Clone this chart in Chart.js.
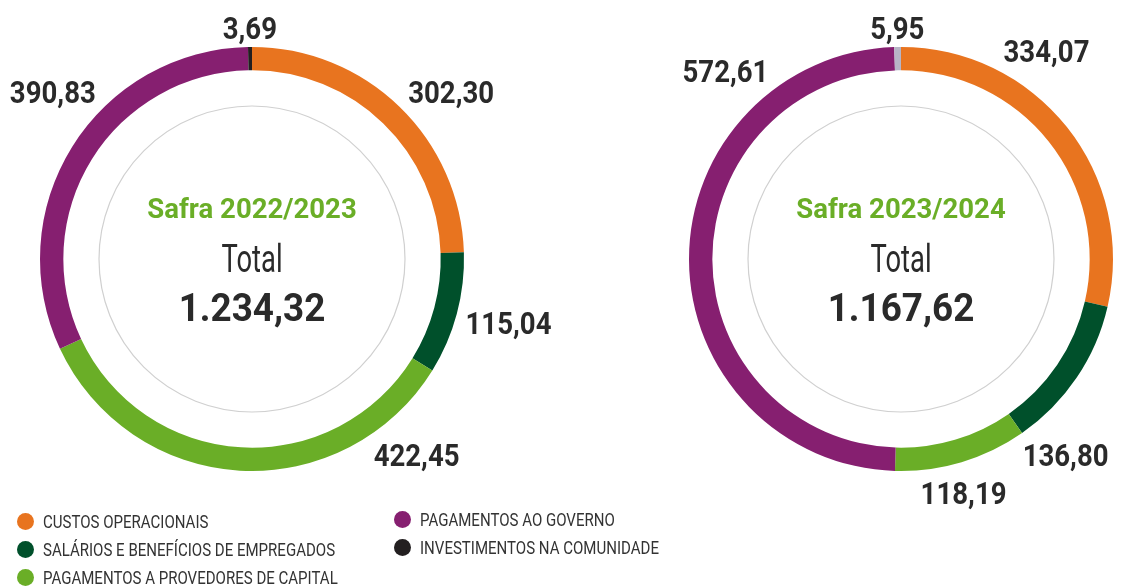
<!DOCTYPE html>
<html lang="pt-BR">
<head>
<meta charset="utf-8">
<title>Valor adicionado distribuído</title>
<script src="https://cdn.jsdelivr.net/npm/chart.js@4"></script>
<style>
    html, body { margin:0; padding:0; background:#fff; }
    body { width:1135px; height:587px; position:relative; overflow:hidden; font-family:Roboto, "Noto Sans", sans-serif; }
    #graficoA { position:absolute; left:0; top:0; }
    #graficoB { position:absolute; left:575px; top:0; }
    .itemLegenda { position:absolute; height:20px; display:flex; align-items:center; }
    .itemLegenda .bola { width:17px; height:17px; border-radius:50%; flex:none; }
    .itemLegenda .texto { margin-left:9px; font-size:18px; color:#333; white-space:nowrap; transform:scaleX(0.835); transform-origin:left center; }
</style>
</head>
<body>
<canvas id="graficoA" width="575" height="587"></canvas>
<canvas id="graficoB" width="560" height="587"></canvas>
<div id="legenda"></div>

<script>
// categorias (mesma ordem nos dois anéis, sentido horário a partir do topo)
const categorias = [
    'CUSTOS OPERACIONAIS',
    'SALÁRIOS E BENEFÍCIOS DE EMPREGADOS',
    'PAGAMENTOS A PROVEDORES DE CAPITAL',
    'PAGAMENTOS AO GOVERNO',
    'INVESTIMENTOS NA COMUNIDADE'
];
const safras = ['Safra 2022/2023', 'Safra 2023/2024'];
const valores2223 = [302.30, 115.04, 422.45, 390.83, 3.69];
const valores2324 = [334.07, 136.80, 118.19, 572.61, 5.95];
const totais = [1234.32, 1167.62];

// cores
const coresA = ['#e8741f', '#00502b', '#6aae27', '#861f70', '#231f20'];
const coresB = ['#e8741f', '#00502b', '#6aae27', '#861f70', '#b7b5c6'];

// ângulo (graus, a partir do topo) onde fica cada rótulo; null = meio da fatia
const angulosA = [50, 104, 140, 310, null];
const angulosB = [35, 140, 165, 317, null];

window.addEventListener("load", function(){

    function formata(n){
        let partes = n.toFixed(2).split('.');
        let inteiro = partes[0].replace(/\B(?=(\d{3})+(?!\d))/g, '.');
        return inteiro + ',' + partes[1];
    }

    // texto "condensado": escala horizontal
    function texto(ctx, str, x, y, fonte, cor, escala){
        ctx.save();
        ctx.font = fonte;
        ctx.fillStyle = cor;
        ctx.textAlign = 'center';
        ctx.textBaseline = 'alphabetic';
        ctx.translate(x, y);
        ctx.scale(escala, 1);
        ctx.fillText(str, 0, 0);
        ctx.restore();
    }

    //__________ plugin: círculo interno, rótulos e total __________//
    const rotulosPlugin = {
        id: 'rotulos',
        beforeDatasetsDraw: function(chart, args, opts){
            let arco = chart.getDatasetMeta(0).data[0];
            let ctx = chart.ctx;
            ctx.save();
            ctx.beginPath();
            ctx.arc(arco.x, arco.y, 153, 0, Math.PI * 2);
            ctx.strokeStyle = '#d0d0d0';
            ctx.lineWidth = 1.2;
            ctx.stroke();
            ctx.restore();
        },
        afterDatasetsDraw: function(chart, args, opts){
            let ctx = chart.ctx;
            let meta = chart.getDatasetMeta(0);
            let valores = chart.data.datasets[0].data;
            let fonte = 'bold 31px Roboto';
            let escala = 0.89;
            let alturaCap = 31 * 0.711;

            meta.data.forEach(function(arco, i){
                let ang;
                if(opts.angulos[i] == null){
                    ang = (arco.startAngle + arco.endAngle) / 2;
                }else{
                    ang = opts.angulos[i] * Math.PI / 180 - Math.PI / 2;
                }
                let str = formata(valores[i]);
                ctx.font = fonte;
                let larg = ctx.measureText(str).width * escala;
                let c = Math.cos(ang), s = Math.sin(ang);
                let d = arco.outerRadius + 8 + Math.abs(c) * larg / 2 + Math.abs(s) * alturaCap / 2;
                let x = arco.x + d * c;
                let y = arco.y + d * s;
                texto(ctx, str, x, y + alturaCap / 2, fonte, '#2a2a2a', escala);
            });

            // texto central
            let cx = meta.data[0].x, cy = meta.data[0].y;
            texto(ctx, opts.titulo, cx, cy - 41, 'bold 27px Roboto', '#6aae27', 1.02);
            texto(ctx, 'Total', cx, cy + 13, '38px Roboto', '#2a2a2a', 0.72);
            texto(ctx, formata(opts.total), cx, cy + 62, 'bold 38px Roboto', '#2a2a2a', 0.97);
        }
    };

    function criaGrafico(id, valores, cores, padding, angulos, titulo, total){
        let ctx = document.getElementById(id).getContext('2d');
        return new Chart(ctx, {
            type: 'doughnut',
            data: {
                labels: categorias,
                datasets: [{
                    data: valores,
                    backgroundColor: cores,
                    borderWidth: 0,
                    hoverOffset: 0
                }]
            },
            options: {
                responsive: false,
                animation: false,
                cutout: '89%',
                layout: { padding: padding },
                plugins: {
                    legend: { display: false },
                    tooltip: { enabled: false },
                    rotulos: { angulos: angulos, titulo: titulo, total: total }
                },
                events: []
            },
            plugins: [rotulosPlugin]
        });
    }

    criaGrafico('graficoA', valores2223, coresA, {left:40, right:111, top:40, bottom:109}, angulosA, safras[0], totais[0]);
    criaGrafico('graficoB', valores2324, coresB, {left:114, right:22, top:40, bottom:109}, angulosB, safras[1], totais[1]);

    //__________ legenda __________//
    let posLegenda = [
        {x:17, y:521}, {x:17, y:549}, {x:17, y:577},
        {x:394, y:519}, {x:394, y:547}
    ];
    let legenda = document.getElementById('legenda');
    categorias.forEach(function(nome, i){
        let item = document.createElement('div');
        item.className = 'itemLegenda';
        item.style.left = posLegenda[i].x + 'px';
        item.style.top = (posLegenda[i].y - 10) + 'px';
        let bola = document.createElement('span');
        bola.className = 'bola';
        bola.style.background = coresA[i];
        let txt = document.createElement('span');
        txt.className = 'texto';
        txt.textContent = nome;
        item.appendChild(bola);
        item.appendChild(txt);
        legenda.appendChild(item);
    });
});
</script>
</body>
</html>
